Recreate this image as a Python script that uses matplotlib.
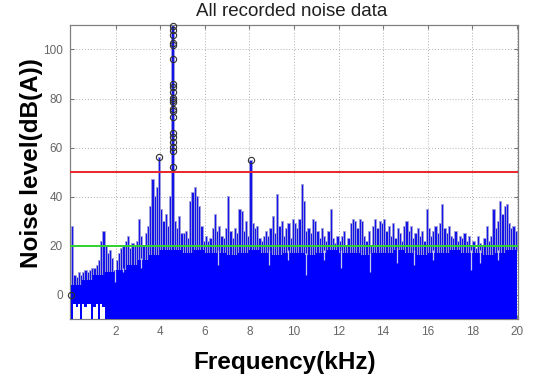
import matplotlib
matplotlib.use("Agg")
import matplotlib.pyplot as plt
import numpy as np

# peak level of all recordings per 0.1 kHz bin (dB(A)), one row per kHz
peak_level = [
    28, 8, 7, 9, 8, 9, 10, 9, 10, 11,
    11, 12, 14, 22, 26, 20, 17, 18, 15, 10,
    14, 17, 19, 20, 22, 24, 19, 21, 20, 22,
    31, 24, 20, 25, 28, 36, 47, 40, 44, 56,
    35, 30, 33, 28, 40, 110, 30, 27, 32, 25,
    25, 26, 23, 38, 42, 44, 40, 36, 28, 22,
    24, 22, 23, 27, 33, 26, 28, 24, 23, 27,
    40, 26, 23, 27, 25, 35, 34, 26, 30, 24,
    55, 29, 27, 28, 23, 22, 24, 26, 24, 27,
    32, 25, 41, 28, 30, 24, 27, 29, 23, 31,
    29, 27, 31, 45, 38, 26, 27, 25, 31, 30,
    26, 23, 27, 24, 22, 26, 35, 23, 21, 24,
    22, 24, 26, 20, 23, 29, 31, 30, 27, 31,
    30, 24, 22, 26, 20, 28, 31, 27, 30, 29,
    31, 26, 28, 24, 29, 23, 27, 25, 22, 28,
    30, 26, 28, 23, 25, 27, 24, 26, 22, 35,
    27, 24, 26, 28, 25, 29, 37, 27, 25, 28,
    24, 23, 26, 22, 24, 23, 25, 22, 24, 20,
    22, 19, 24, 21, 20, 23, 28, 22, 24, 35,
    27, 30, 38, 33, 36, 37, 29, 27, 28, 26,
]
# top of the solid noise floor per 0.5 kHz
floor_level = [4, 6, 8, 9, 10, 12, 14, 16, 18, 18,
               17, 18, 17, 17, 16, 17, 18, 17, 16, 17,
               17, 16, 17, 18, 17, 17, 16, 17, 17, 18,
               17, 16, 17, 17, 18, 17, 17, 16, 17, 18]
# lowest level drawn per 0.1 kHz below 1.6 kHz (rest reaches the axis bottom)
low_level_start = [-10, -4, -5, -4, -10, -4, -5, -4, -4, -10, -5, -4, -10, -4, -5, -10]

# white gaps reaching down into the floor
dip_freq = [1.95, 2.35, 3.15, 6.6, 8.9, 9.75, 10.55, 11.35, 12.1, 13.4,
            14.6, 15.4, 16.25, 17.95, 18.35, 19.15]
dip_level = [5, 9, 11, 12, 12, 14, 8, 14, 11, 9, 13, 12, 14, 10, 13, 14]

# circled maxima
circle_freq = [4.55] * 21 + [3.95, 8.08, 0.0]
circle_level = [109.6, 108, 106, 102.5, 102, 96, 86, 84.7, 82.7, 80.4, 79.5,
                78.6, 75.8, 74.9, 72.4, 65.8, 64.2, 62.1, 60.4, 58.7, 52,
                56, 55, 0]

upper_limit = 50
lower_limit = 20

freq = np.arange(len(peak_level)) * 0.1 + 0.05
floor_bin = np.repeat(floor_level, 5)
low_bin = np.full(len(freq), -10.0)
low_bin[:len(low_level_start)] = low_level_start
peak = np.array(peak_level, dtype=float)

fig = plt.figure(figsize=(5.34, 3.80), dpi=100)
ax = fig.add_axes([70 / 534, 1 - 319 / 380, 448 / 534, 294 / 380])

ax.grid(True, color="#b0b0b0", linestyle=(0, (1, 2)), linewidth=0.7)
ax.set_axisbelow(True)

# spikes above the floor, with the pale outline of the overlaid traces
ax.bar(freq, peak - floor_bin, bottom=floor_bin, width=0.1,
       color="#1414e8", edgecolor="#a0a0dc", linewidth=0.6, zorder=2)
# solid noise floor
ax.bar(freq, floor_bin - low_bin, bottom=low_bin, width=0.1,
       color="#0000ff", linewidth=0, zorder=3)
dip_top = floor_bin[(np.array(dip_freq) * 10).astype(int)] + 1
ax.vlines(dip_freq, dip_level, dip_top, colors="#c8c8ee", linewidth=0.9, zorder=3)

ax.axhline(upper_limit, color="#e8262a", linewidth=1.4, zorder=4)
ax.axhline(lower_limit, color="#2fd12f", linewidth=1.4, zorder=4)

ax.plot(circle_freq, circle_level, linestyle="none", marker="o", ms=4.5,
        mfc="none", mec="#303030", mew=0.8, zorder=5, clip_on=False)

ax.set_xlim(-0.05, 20.05)
ax.set_ylim(-10, 110)
ax.set_xticks(np.arange(2, 21, 2))
ax.set_yticks(np.arange(0, 101, 20))
ax.tick_params(direction="in", length=3, top=True, right=True,
               labelsize=8.5, labelcolor="#666666", color="#777777", pad=5)
for lab in ax.get_xticklabels() + ax.get_yticklabels():
    lab.set_family("Liberation Sans")
for s in ax.spines.values():
    s.set_color("#808080")
    s.set_linewidth(0.9)

fig.text(292 / 534, 1 - 12 / 380, "All recorded noise data", ha="center", va="center",
         fontsize=13.5, family="Liberation Sans", color="#202020")
fig.text(285 / 534, 1 - 362 / 380, "Frequency(kHz)", ha="center", va="center",
         fontsize=17.5, fontweight="bold", family="Liberation Sans")
fig.text(32 / 534, 1 - 163 / 380, "Noise level(dB(A))", ha="center", va="center",
         rotation=90, fontsize=17.5, fontweight="bold", family="Liberation Sans")

fig.savefig("out.png", dpi=100)
